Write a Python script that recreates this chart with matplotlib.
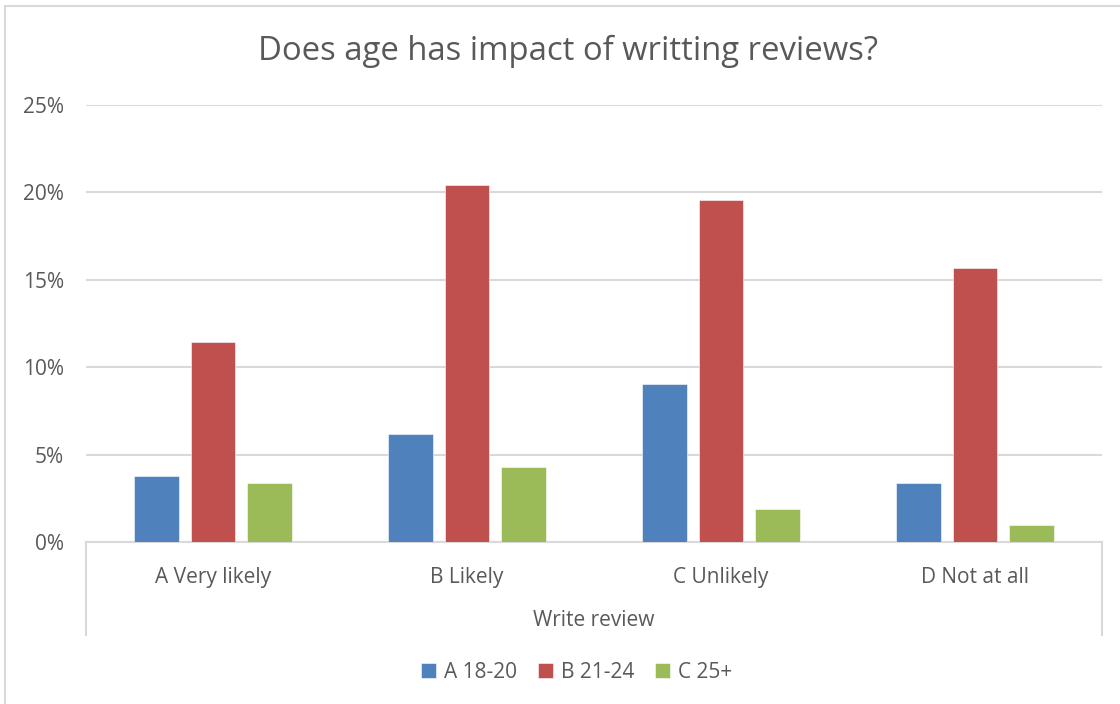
import numpy as np
import matplotlib.pyplot as plt
from matplotlib.patches import Rectangle

# Survey answers: share of respondents per age group
categories = ['A Very likely', 'B Likely', 'C Unlikely', 'D Not at all']
groups = ['A 18-20', 'B 21-24', 'C 25+']
age_18_20 = [3.8, 6.2, 9.05, 3.35]
age_21_24 = [11.45, 20.45, 19.55, 15.7]
age_25_up = [3.35, 4.3, 1.9, 0.95]
yticks = [0, 5, 10, 15, 20, 25]

colors = ['#4F81BD', '#C0504D', '#9BBB59']
text_col = '#595959'
grid_col = '#D9D9D9'

plt.rcParams['font.family'] = ['Open Sans', 'DejaVu Sans']

fig = plt.figure(figsize=(11.2, 7.04), dpi=100)
ax = fig.add_axes([86/1120, 1 - 542/704, (1102-86)/1120, (542-105)/704])

x = np.arange(len(categories))
step, width = 0.222, 0.177
for i, (vals, lab) in enumerate(zip([age_18_20, age_21_24, age_25_up], groups)):
    ax.bar(x + (i - 1)*step, vals, width, color=colors[i], label=lab,
           edgecolor='white', linewidth=0.4, zorder=3)

ax.set_xlim(-0.5, 3.5)
ax.set_ylim(0, 25)
ax.set_yticks(yticks)
ax.set_yticklabels([f'{t}%' for t in yticks])
ax.yaxis.grid(True, color=grid_col, linewidth=1.5, zorder=0)
ax.tick_params(axis='y', length=0, pad=16, labelsize=15, labelcolor=text_col)
ax.tick_params(axis='x', length=0, pad=18, labelsize=15, labelcolor=text_col)
ax.set_xticks(x)
ax.set_xticklabels(categories)
for s in ['top', 'right', 'left']:
    ax.spines[s].set_visible(False)
ax.spines['bottom'].set_color(grid_col)
ax.spines['bottom'].set_linewidth(1.5)

# outer bracket of the category axis
trans = ax.get_xaxis_transform()
for xv in [-0.5, 3.5]:
    ax.plot([xv, xv], [0, -0.213], transform=trans, color=grid_col,
            linewidth=1.5, clip_on=False)

ax.set_xlabel('Write review', fontsize=15, color=text_col, labelpad=16)

fig.suptitle('Does age has impact of writting reviews?', x=0.5075, y=0.95,
             fontsize=23.7, color=text_col)

fig.legend(loc='center', bbox_to_anchor=(577/1120, 1 - 672/704), ncol=3,
           frameon=False, fontsize=15, labelcolor=text_col,
           handlelength=0.7, handleheight=0.7, handletextpad=0.4,
           columnspacing=1.0)

# chart frame
fig.patches.append(Rectangle((5/1120, -0.1), 1.2, 1.1 - 6/704, transform=fig.transFigure,
                             fill=False, edgecolor=grid_col, linewidth=1.5))

fig.savefig('out.png', dpi=100)
